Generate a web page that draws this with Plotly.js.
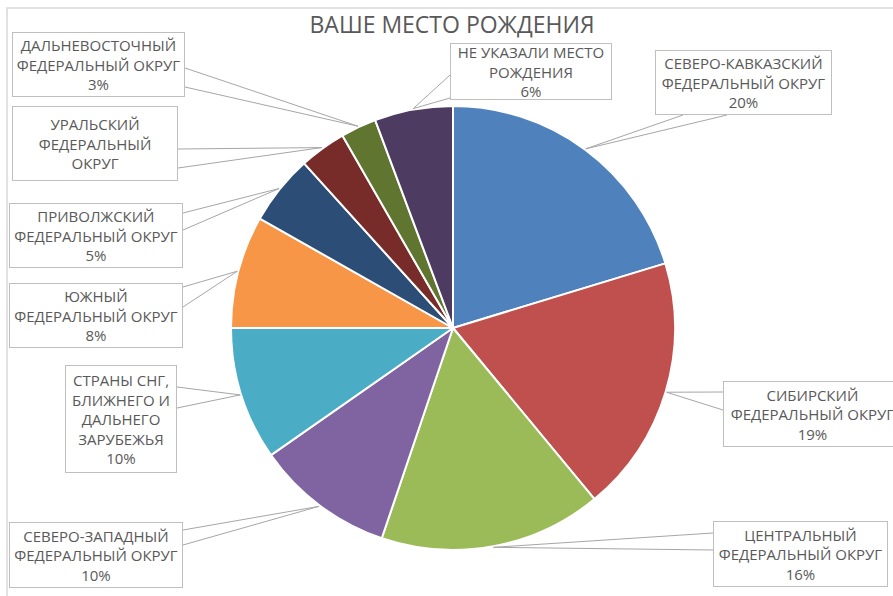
<!DOCTYPE html>
<html>
<head>
<meta charset="utf-8">
<script src="https://cdn.plot.ly/plotly-3.0.1.min.js"></script>
<style>html,body{margin:0;padding:0;background:#fff;}#chart{width:893px;height:596px;}</style>
</head>
<body>
<div id="chart"></div>
<script>
// ---- data ----
var categories = [
  "СЕВЕРО-КАВКАЗСКИЙ<br>ФЕДЕРАЛЬНЫЙ ОКРУГ",
  "СИБИРСКИЙ<br>ФЕДЕРАЛЬНЫЙ ОКРУГ",
  "ЦЕНТРАЛЬНЫЙ<br>ФЕДЕРАЛЬНЫЙ ОКРУГ",
  "СЕВЕРО-ЗАПАДНЫЙ<br>ФЕДЕРАЛЬНЫЙ ОКРУГ",
  "СТРАНЫ СНГ,<br>БЛИЖНЕГО И<br>ДАЛЬНЕГО<br>ЗАРУБЕЖЬЯ",
  "ЮЖНЫЙ<br>ФЕДЕРАЛЬНЫЙ ОКРУГ",
  "ПРИВОЛЖСКИЙ<br>ФЕДЕРАЛЬНЫЙ ОКРУГ",
  "УРАЛЬСКИЙ<br>ФЕДЕРАЛЬНЫЙ<br>ОКРУГ",
  "ДАЛЬНЕВОСТОЧНЫЙ<br>ФЕДЕРАЛЬНЫЙ ОКРУГ",
  "НЕ УКАЗАЛИ МЕСТО<br>РОЖДЕНИЯ"
];
var values = [20.3, 18.7, 16.2, 10.1, 9.7, 8.2, 5.1, 3.4, 2.6, 5.7];
var showPercent = [true, true, true, true, true, true, true, false, true, true];
var colors = ["#4F81BD", "#C0504D", "#9BBB59", "#8064A2", "#4BACC6",
              "#F79646", "#2C4D75", "#772C2A", "#5F7530", "#4D3B62"];
var chartTitle = "ВАШЕ МЕСТО РОЖДЕНИЯ";

// ---- layout config (pixels) ----
var W = 893, H = 596;
var CX = 453, CY = 328, R = 222;
// label boxes [x0,y0,x1,y1] and callout base points
var boxes = [
  [655, 50, 832, 115], [723, 381, 902, 447], [713, 521, 888, 587],
  [9, 522, 183, 588], [65, 365, 177, 473], [9, 283, 183, 348],
  [9, 203, 183, 268], [12, 106, 178, 181], [12, 32, 185, 97],
  [450, 43, 612, 100]
];
var bases = [
  [[683, 115], [727, 115]], [[723, 392], [723, 410]], [[713, 533], [713, 550]],
  [[183, 530], [183, 545]], [[177, 387], [177, 408]], [[183, 287], [183, 307]],
  [[183, 213], [183, 230]], [[178, 149], [178, 168]], [[185, 68], [185, 87]],
  [[450, 75], [450, 98]]
];

function px(x) { return x / W; }
function py(y) { return 1 - y / H; }

var total = values.reduce(function (a, b) { return a + b; }, 0);

var trace = {
  type: "pie",
  labels: categories,
  values: values,
  sort: false,
  direction: "clockwise",
  rotation: 0,
  textinfo: "none",
  hoverinfo: "label+percent",
  marker: { colors: colors, line: { color: "#FFFFFF", width: 2 } },
  domain: { x: [px(CX - R), px(CX + R)], y: [py(CY + R), py(CY - R)] },
  showlegend: false
};

var annotations = [];
var shapes = [];
var cum = 0;
for (var i = 0; i < values.length; i++) {
  var mid = (cum + values[i] / 2) / total * 2 * Math.PI;
  cum += values[i];
  var tx = CX + (R + 1) * Math.sin(mid);
  var ty = CY - (R + 1) * Math.cos(mid);
  var b = boxes[i];
  var txt = categories[i] + (showPercent[i] ? "<br>" + Math.round(values[i] / total * 100) + "%" : "");
  annotations.push({
    xref: "paper", yref: "paper",
    x: px(b[0]), y: py(b[1]), xanchor: "left", yanchor: "top",
    width: b[2] - b[0] - 2, height: b[3] - b[1] - 2,
    text: txt, showarrow: false, align: "center", valign: "middle",
    bordercolor: "#BFBFBF", borderwidth: 1, borderpad: 0, bgcolor: "#FFFFFF",
    font: { family: "Open Sans, sans-serif", size: 15, color: "#595959" }
  });
  var p = bases[i];
  shapes.push({
    type: "path", xref: "paper", yref: "paper",
    path: "M " + px(p[0][0]) + "," + py(p[0][1]) + " L " + px(tx) + "," + py(ty) +
          " L " + px(p[1][0]) + "," + py(p[1][1]),
    line: { color: "#A6A6A6", width: 1 }
  });
}
// outer chart frame
shapes.push({
  type: "rect", xref: "paper", yref: "paper", layer: "below",
  x0: px(7), x1: 1.05, y0: -0.05, y1: py(8),
  line: { color: "#D9D9D9", width: 1.5 }, fillcolor: "rgba(0,0,0,0)"
});

var layout = {
  width: W, height: H,
  margin: { l: 0, r: 0, t: 0, b: 0 },
  paper_bgcolor: "#FFFFFF",
  title: {
    text: chartTitle, x: px(452), xanchor: "center", y: py(25), yanchor: "middle",
    font: { family: "Open Sans, sans-serif", size: 23, color: "#595959" }
  },
  annotations: annotations,
  shapes: shapes
};

Plotly.newPlot("chart", [trace], layout, { displayModeBar: false, staticPlot: true });
</script>
</body>
</html>
